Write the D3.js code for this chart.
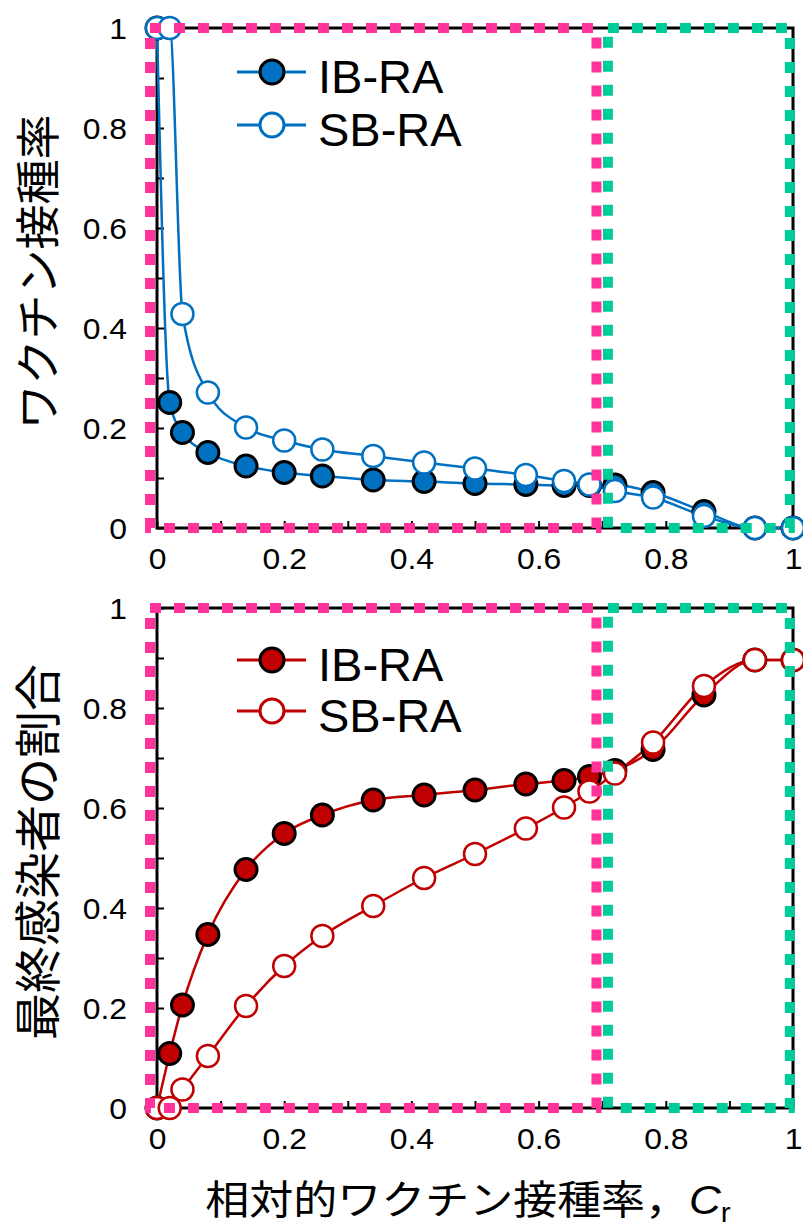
<!DOCTYPE html>
<html>
<head>
<meta charset="utf-8">
<script src="https://cdn.jsdelivr.net/npm/d3@7/dist/d3.min.js"></script>
<style>
  body { margin: 0; background: #fff; }
  text { font-family: "Liberation Sans", Arial, sans-serif; fill: #000; }
  .jp { font-family: "Noto Sans CJK JP", sans-serif; }
</style>
</head>
<body>
<div id="chart"></div>
<script>
// relative vaccination rate C_r (x positions of the markers)
const cr = [0, 0.02, 0.04, 0.08, 0.14, 0.2, 0.26, 0.34, 0.42, 0.5, 0.58, 0.64, 0.68, 0.72, 0.78, 0.86, 0.94, 1.0];

// upper panel: vaccination rate
const vacIB = [1, 0.251, 0.191, 0.151, 0.124, 0.111, 0.104, 0.096, 0.093, 0.089, 0.087, 0.085, 0.085, 0.086, 0.071, 0.033, 0, 0];
const vacSB = [1, 1, 0.428, 0.271, 0.201, 0.175, 0.157, 0.144, 0.131, 0.119, 0.106, 0.094, 0.087, 0.074, 0.061, 0.024, 0, 0];

// lower panel: final fraction of infected
const infIB = [0, 0.109, 0.206, 0.347, 0.477, 0.549, 0.586, 0.616, 0.626, 0.636, 0.648, 0.655, 0.663, 0.675, 0.717, 0.826, 0.896, 0.896];
const infSB = [0, 0, 0.037, 0.104, 0.204, 0.284, 0.344, 0.404, 0.460, 0.508, 0.559, 0.601, 0.633, 0.669, 0.731, 0.844, 0.896, 0.896];

const seriesNames = ['IB-RA', 'SB-RA'];
const xTicks = d3.range(0, 11).map(i => i / 10);
const yTicks = d3.range(0, 11).map(i => i / 10);

// highlighted ranges of C_r (dotted boxes)
const pinkBox = [-0.011, 0.691];
const greenBox = [0.709, 0.995];

const W = 803, H = 1230;
const svg = d3.select('#chart').append('svg')
  .attr('width', W)
  .attr('height', H);

const x = d3.scaleLinear().domain([0, 1]).range([157, 793]);

const panels = [
  { top: 28, bottom: 528, color: '#0070c0', ib: vacIB, sb: vacSB, title: 'ワクチン接種率', titleX: 35, titleY: 272, titleSize: 45, legendY: [72, 125] },
  { top: 608, bottom: 1108, color: '#c00000', ib: infIB, sb: infSB, title: '最終感染者の割合', titleX: 34, titleY: 852, titleSize: 47, legendY: [660, 711] }
];

const fmt = d => (Math.round(d * 10) % 2 === 0) ? String(+d.toFixed(1)) : '';
const sx = 1.1; // tick labels in the source are a bit wide

panels.forEach(p => {
  const y = d3.scaleLinear().domain([0, 1]).range([p.bottom, p.top]);
  const g = svg.append('g');

  // frame
  g.append('rect')
    .attr('x', x(0)).attr('y', y(1))
    .attr('width', x(1) - x(0)).attr('height', y(0) - y(1))
    .attr('fill', 'none').attr('stroke', '#000').attr('stroke-width', 3);

  // axes with inward ticks
  const xAxis = g.append('g')
    .attr('transform', `translate(0,${p.bottom})`)
    .call(d3.axisBottom(x).tickValues(xTicks).tickSize(-7).tickFormat(fmt));
  xAxis.select('.domain').remove();
  xAxis.selectAll('line').attr('stroke', '#000').attr('stroke-width', 2);
  xAxis.selectAll('text')
    .attr('y', 31).attr('dy', '0.35em')
    .attr('transform', `scale(${sx},1)`)
    .style('font-size', '29px');

  const yAxis = g.append('g')
    .attr('transform', `translate(${x(0)},0)`)
    .call(d3.axisLeft(y).tickValues(yTicks).tickSize(-7).tickFormat(fmt));
  yAxis.select('.domain').remove();
  yAxis.selectAll('line').attr('stroke', '#000').attr('stroke-width', 2);
  yAxis.selectAll('text')
    .attr('x', -30 / sx).attr('dy', '0.35em')
    .attr('text-anchor', 'end')
    .attr('transform', `scale(${sx},1)`)
    .style('font-size', '29px');

  // y title
  g.append('text')
    .attr('class', 'jp')
    .attr('transform', `translate(${p.titleX},${p.titleY}) rotate(-90)`)
    .attr('text-anchor', 'middle')
    .attr('dominant-baseline', 'central')
    .style('font-size', p.titleSize + 'px')
    .text(p.title);

  // lines
  const line = d3.line()
    .x((d, i) => x(cr[i]))
    .y(d => y(d))
    .curve(d3.curveMonotoneX);

  [p.ib, p.sb].forEach(vals => {
    g.append('path')
      .datum(vals)
      .attr('d', line)
      .attr('fill', 'none')
      .attr('stroke', p.color)
      .attr('stroke-width', 2.5);
  });

  // markers, IB below SB
  g.append('g').selectAll('circle')
    .data(p.ib)
    .join('circle')
    .attr('cx', (d, i) => x(cr[i]))
    .attr('cy', d => y(d))
    .attr('r', 11)
    .attr('fill', p.color)
    .attr('stroke', '#000')
    .attr('stroke-width', 3);

  g.append('g').selectAll('circle')
    .data(p.sb)
    .join('circle')
    .attr('cx', (d, i) => x(cr[i]))
    .attr('cy', d => y(d))
    .attr('r', 11)
    .attr('fill', '#fff')
    .attr('stroke', p.color)
    .attr('stroke-width', 2.5);

  // legend
  const leg = g.append('g');
  seriesNames.forEach((name, i) => {
    const ly = p.legendY[i];
    leg.append('line')
      .attr('x1', 237).attr('x2', 306)
      .attr('y1', ly).attr('y2', ly)
      .attr('stroke', p.color).attr('stroke-width', 3);
    leg.append('circle')
      .attr('cx', 272).attr('cy', ly).attr('r', 12)
      .attr('fill', i === 0 ? p.color : '#fff')
      .attr('stroke', i === 0 ? '#000' : p.color)
      .attr('stroke-width', 3);
    leg.append('text')
      .attr('x', 318).attr('y', ly + 21)
      .style('font-size', '47px')
      .text(name);
  });

  // dotted highlight boxes on top
  [[pinkBox, '#ff3399'], [greenBox, '#00cc99']].forEach(([box, col]) => {
    g.append('rect')
      .attr('x', x(box[0])).attr('y', y(1))
      .attr('width', x(box[1]) - x(box[0]))
      .attr('height', y(0) - y(1))
      .attr('fill', 'none')
      .attr('stroke', col)
      .attr('stroke-width', 10)
      .attr('stroke-dasharray', '11 13');
  });
});

// x title
const xt = svg.append('text')
  .attr('transform', 'translate(468,1214) scale(1.1,1)')
  .attr('text-anchor', 'middle')
  .style('font-size', '40px');
xt.append('tspan').attr('class', 'jp').text('相対的ワクチン接種率，');
xt.append('tspan').style('font-style', 'italic').text('C');
xt.append('tspan').attr('dy', 8).style('font-size', '27px').text('r');
</script>
</body>
</html>
